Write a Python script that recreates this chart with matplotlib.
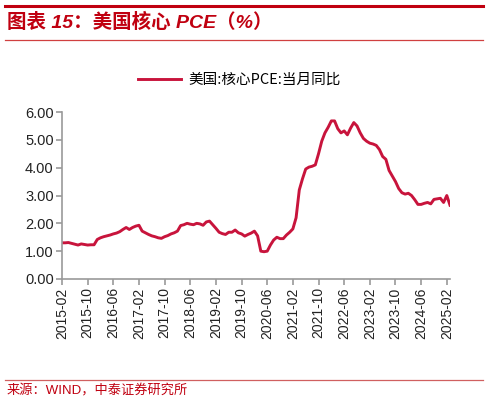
import matplotlib
matplotlib.use("Agg")
import matplotlib.pyplot as plt
import numpy as np
import pandas as pd

plt.rcParams['font.family'] = ['Liberation Sans', 'Noto Sans CJK SC', 'DejaVu Sans']

# monthly core PCE YoY, 2015-02 .. 2025-03
months = pd.period_range('2015-02', '2025-03', freq='M').strftime('%Y-%m').tolist()
core_pce = [
    1.30, 1.30, 1.31, 1.28, 1.25, 1.22, 1.26, 1.24, 1.22, 1.23, 1.23,        # 2015
    1.42, 1.48, 1.52, 1.55, 1.58, 1.62, 1.65, 1.70, 1.78, 1.85, 1.78, 1.85,  # 2016
    1.90, 1.93, 1.72, 1.66, 1.60, 1.55, 1.52, 1.48, 1.46, 1.52, 1.56, 1.62,  # 2017
    1.66, 1.72, 1.92, 1.95, 2.00, 1.97, 1.95, 2.00, 1.98, 1.93, 2.05, 2.08,  # 2018
    1.95, 1.82, 1.68, 1.63, 1.60, 1.68, 1.68, 1.76, 1.66, 1.62, 1.54, 1.60,  # 2019
    1.65, 1.72, 1.55, 1.00, 0.98, 1.00, 1.22, 1.40, 1.50, 1.45, 1.45, 1.58,  # 2020
    1.68, 1.80, 2.20, 3.20, 3.60, 3.95, 4.02, 4.05, 4.10, 4.50, 4.95, 5.25,  # 2021
    5.45, 5.68, 5.68, 5.40, 5.25, 5.32, 5.18, 5.42, 5.62, 5.50, 5.25, 5.05,  # 2022
    4.95, 4.88, 4.85, 4.80, 4.65, 4.40, 4.30, 3.90, 3.70, 3.50, 3.25, 3.10,  # 2023
    3.05, 3.08, 3.00, 2.85, 2.68, 2.68, 2.72, 2.75, 2.70, 2.86, 2.88, 2.90,  # 2024
    2.75, 3.00, 2.65,                                                        # 2025
]
y_ticks = [0, 1, 2, 3, 4, 5, 6]
tick_step = 8

red = '#C00010'
line_red = '#C8143C'
axis_grey = '#9A9A9A'

W, H = 488, 404
fig = plt.figure(figsize=(W / 100, H / 100), dpi=100)

# header / footer rules
fig.add_artist(plt.Line2D([5 / W, 483 / W], [1 - 6 / H, 1 - 6 / H], color=red, lw=2.2))
fig.add_artist(plt.Line2D([5 / W, 483 / W], [1 - 39.5 / H, 1 - 39.5 / H], color='#D04040', lw=0.9))
fig.add_artist(plt.Line2D([5 / W, 483 / W], [1 - 380 / H, 1 - 380 / H], color='#D06060', lw=0.9))

fig.text(7 / W, 1 - 22 / H, '图表 15：美国核心 PCE（%）', color=red, fontsize=14,
         fontweight='bold', style='italic', va='center', ha='left')
fig.text(7 / W, 1 - 391 / H, '来源：WIND，中泰证券研究所', color=red, fontsize=9.5,
         va='center', ha='left')

ax = fig.add_axes([62 / W, (H - 279) / H, (450 - 62) / W, (279 - 112) / H])
x = np.arange(len(core_pce))
ax.plot(x, core_pce, color=line_red, lw=2.1, label='美国:核心PCE:当月同比',
        solid_joinstyle='round')

ax.set_xlim(0, len(core_pce) - 1)
ax.set_ylim(0, 6)
ax.set_yticks(y_ticks)
ax.set_yticklabels([f'{v:.2f}' for v in y_ticks], fontsize=10.5, color='#222222')
xt = list(range(0, len(months), tick_step))
ax.set_xticks(xt)
ax.set_xticklabels([months[i] for i in xt], rotation=90, fontsize=10, color='#222222')

for s in ['top', 'right']:
    ax.spines[s].set_visible(False)
for s in ['left', 'bottom']:
    ax.spines[s].set_color(axis_grey)
    ax.spines[s].set_linewidth(1.2)
ax.tick_params(axis='both', colors=axis_grey, length=4, width=1.2, labelcolor='#222222')
ax.tick_params(axis='x', pad=2)
ax.tick_params(axis='y', pad=2)

fig.legend(loc='center', bbox_to_anchor=(239 / W, 1 - 80 / H), frameon=False,
           handlelength=3.0, handletextpad=0.45,
           prop={'family': ['Noto Sans CJK SC', 'DejaVu Sans'], 'size': 10.5})

fig.savefig('out.png', dpi=100)
